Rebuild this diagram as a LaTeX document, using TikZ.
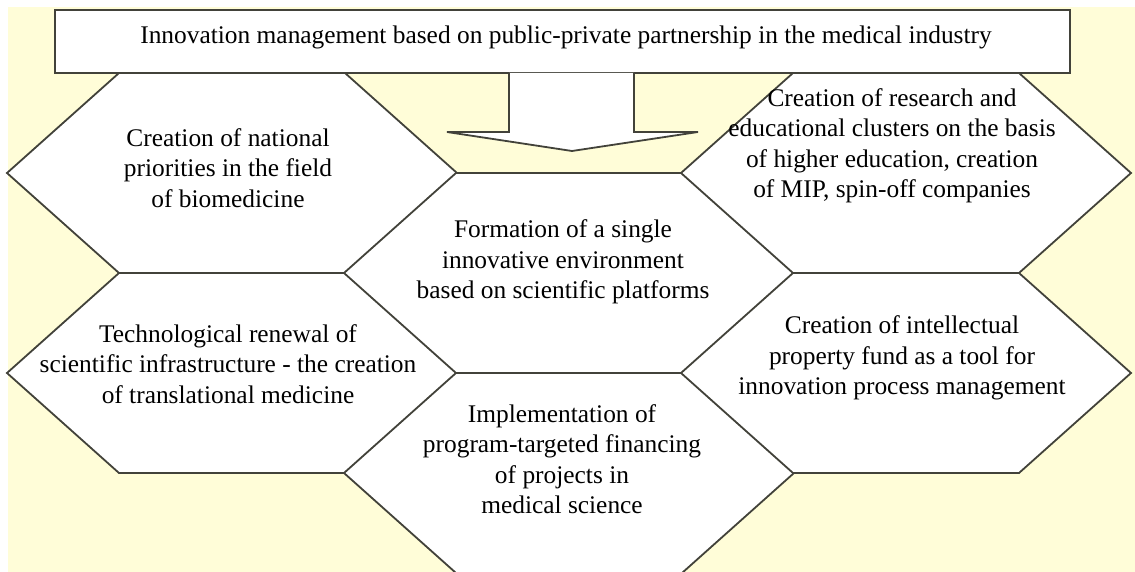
\documentclass[tikz,border=0pt]{standalone}
\usepackage{fontspec}
\setmainfont{Liberation Serif}
\definecolor{bgyellow}{RGB}{255,253,216}
\definecolor{edge}{RGB}{66,66,58}
\tikzset{
  hexline/.style={draw=edge, line width=1.8pt, fill=white, line join=miter},
  hextext/.style={align=center, font=\fontsize{25.4}{30.5}\selectfont, inner sep=0pt},
  topbox/.style={draw=edge, line width=1.8pt, fill=white},
  blockarrow/.style={draw=edge, line width=1.8pt, fill=white, line join=miter}
}
\newcommand\hexcell[3]{%
  \coordinate (#3) at (#1,#2);
  \draw[hexline] (#1-113,#2-100) -- (#1+113,#2-100) -- (#1+225,#2) -- (#1+113,#2+100)
     -- (#1-113,#2+100) -- (#1-225,#2) -- cycle;}
\begin{document}
\begin{tikzpicture}[x=1pt,y=-1pt]
\useasboundingbox (0,0) rectangle (1135,572);
\fill[white] (0,0) rectangle (1135,572);
\fill[bgyellow] (8,7) rectangle (1135,572);
\begin{scope}
\clip (0,0) rectangle (1135,572);
% hexagon cells
\hexcell{232}{173}{hTL}
\hexcell{232}{373}{hBL}
\hexcell{569}{273}{hC}
\hexcell{569}{473}{hB}
\hexcell{906}{173}{hTR}
\hexcell{906}{373}{hR}
\end{scope}
% top box
\node[topbox, minimum width=1015pt, minimum height=63pt, inner sep=0pt] (top) at (562.5,41.5) {};
\node[hextext] (toptext) at (566,37) {Innovation management based on public-private partnership in the medical industry};
% block arrow
\coordinate (a1) at (509,73);
\coordinate (a2) at (634,73);
\coordinate (tip) at (572,151);
\draw[blockarrow] (a1) -- (509,132) -- (447,132) -- (tip) -- (698,132) -- (634,132) -- (a2);
% texts
\node[hextext] (tTL) at (228,168) {Creation of national\\priorities in the field\\of biomedicine};
\node[hextext] (tC) at (563,262) {Formation of a single\\innovative environment\\based on scientific platforms};
\node[hextext] (tTR) at (892,146) {Creation of research and\\educational clusters on the basis\\of higher education, creation\\of MIP, spin-off companies};
\node[hextext] (tBL) at (228,364) {Technological renewal of\\scientific infrastructure - the creation\\of translational medicine};
\node[hextext] (tR) at (902,358) {Creation of intellectual\\property fund as a tool for\\innovation process management};
\node[hextext] (tB) at (562,459) {Implementation of\\program-targeted financing\\of projects in\\medical science};
\end{tikzpicture}
\end{document}
